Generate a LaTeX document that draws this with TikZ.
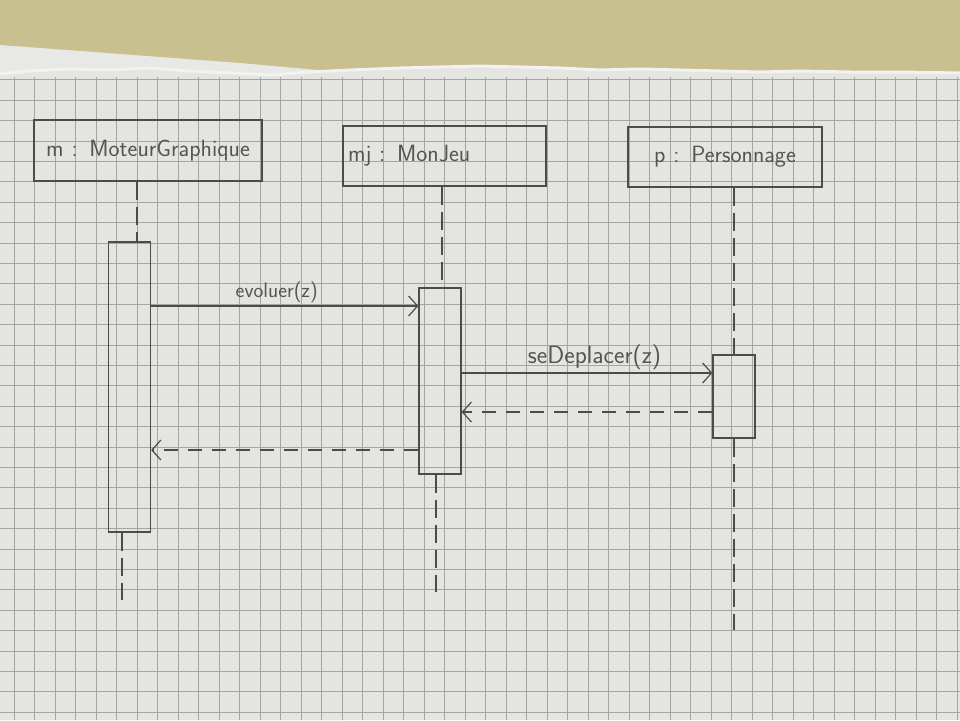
\documentclass[tikz,border=0pt]{standalone}
\usetikzlibrary{arrows.meta}
\definecolor{desk}{HTML}{C9C08F}
\definecolor{sheet}{HTML}{E8E8E6}
\definecolor{paper}{HTML}{E4E4E0}
\definecolor{fringe}{HTML}{F2F2F2}
\definecolor{gridgray}{HTML}{A4A4A4}
\definecolor{pencilgray}{HTML}{4C4C4C}
\definecolor{ink}{HTML}{555555}
\begin{document}
\begin{tikzpicture}[x=1pt,y=-1pt,
  pencil/.style={draw=pencilgray, line width=1.2pt},
  gridline/.style={draw=gridgray, line width=0.75pt},
  header/.style={pencil, rectangle, inner xsep=5pt, inner ysep=0pt,
    font=\sffamily\fontsize{23.5}{26}\selectfont, text=ink},
  activation/.style={pencil, rectangle, minimum width=42pt, inner sep=0pt},
  lifeline/.style={pencil, line width=1.1pt, dash pattern=on 18pt off 7pt},
  call/.style={pencil, -{Straight Barb[length=9pt,width=20pt]}},
  reply/.style={pencil, dash pattern=on 14pt off 10pt,
    -{Straight Barb[length=9pt,width=20pt]}},
  msglabel/.style={text=ink, inner sep=3pt}
]
\useasboundingbox (0,0) rectangle (960,720);

% desk and the torn sheet of squared paper
\fill[desk] (0,0) rectangle (960,720);
\fill[sheet] (0,45) -- (120,54) -- (240,63) -- (340,72) -- (340,720) -- (0,720) -- cycle;
\fill[paper] (0,74) -- (30,71) -- (70,69) -- (110,70) -- (150,68) -- (190,71)
  -- (230,73) -- (270,75) -- (310,72) -- (350,70) -- (400,68) -- (440,67)
  -- (480,66) -- (520,67) -- (560,68) -- (600,70) -- (640,69) -- (680,70)
  -- (720,71) -- (760,72) -- (800,71) -- (850,72) -- (900,72) -- (960,73)
  -- (960,720) -- (0,720) -- cycle;
\draw[fringe, line width=3pt] (0,74) -- (30,71) -- (70,69) -- (110,70) -- (150,68)
  -- (190,71) -- (230,73) -- (270,75) -- (310,72) -- (350,70) -- (400,68)
  -- (440,67) -- (480,66) -- (520,67) -- (560,68) -- (600,70) -- (640,69)
  -- (680,70) -- (720,71) -- (760,72) -- (800,71) -- (850,72) -- (900,72) -- (960,73);

% squares
\foreach \k in {-4,...,42} \draw[gridline] ({96+20.5*\k},77) -- ({96+20.5*\k},720);
\foreach \k in {-2,...,29} \draw[gridline] (0,{120.5+20.4*\k}) -- (960,{120.5+20.4*\k});

% objects
\node[header, minimum width=228pt, minimum height=61pt, text width=218pt, align=center]
  (m) at (148,150.5) {m : MoteurGraphique};
\node[header, minimum width=203pt, minimum height=60pt, text width=193pt, align=left]
  (mj) at (444.5,156) {mj : MonJeu};
\node[header, minimum width=194pt, minimum height=60pt, text width=184pt, align=center]
  (p) at (725,157) {p : Personnage};

% activation bars
\node[activation, minimum height=290pt] (am) at (129.5,387) {};
\node[activation, minimum height=186pt] (amj) at (440,381) {};
\node[activation, minimum height=83pt] (ap) at (734,396.5) {};

% lifelines
\coordinate (lmTop) at (137,0);
\coordinate (lmEnd) at (122,600);
\coordinate (lmjTop) at (442,0);
\coordinate (lmjEnd) at (436,592);
\coordinate (lpEnd) at (734,630);
\draw[lifeline] (m.south -| lmTop) -- (am.north -| lmTop);
\draw[lifeline] (am.south -| lmEnd) -- (lmEnd);
\draw[lifeline] (mj.south -| lmjTop) -- (amj.north -| lmjTop);
\draw[lifeline] (amj.south -| lmjEnd) -- (lmjEnd);
\draw[lifeline] (p.south -| ap.north) -- (ap.north);
\draw[lifeline] (ap.south) -- (lpEnd);

% messages
\coordinate (t1) at (0,306);
\coordinate (t2) at (0,373);
\coordinate (t3) at (0,412);
\coordinate (t4) at (0,450);
\draw[call] (am.east |- t1) -- node[msglabel, above, pos=0.47,
  font=\sffamily\fontsize{21}{23}\selectfont] (lblEvoluer) {evoluer(z)} (amj.west |- t1);
\draw[call] (amj.east |- t2) -- node[msglabel, above, pos=0.53,
  font=\sffamily\fontsize{25}{27}\selectfont] (lblDeplacer) {seDeplacer(z)} (ap.west |- t2);
\draw[reply] (ap.west |- t3) -- (amj.east |- t3);
\draw[reply] (amj.west |- t4) -- (am.east |- t4);
\end{tikzpicture}
\end{document}
